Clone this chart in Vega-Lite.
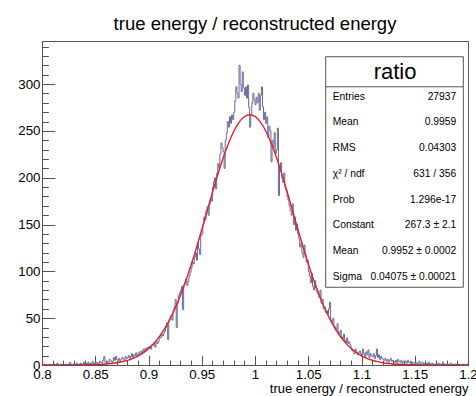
{
"$schema": "https://vega.github.io/schema/vega-lite/v6.json",
"width": 426, "height": 324,
"autosize": {"type": "none"},
"padding": {"left": 42, "top": 41, "right": 8, "bottom": 31},
"background": "white",
"config": {"font": "Liberation Sans", "view": {"stroke": "#555", "strokeWidth": 1}},
"title": {"text": "true energy / reconstructed energy", "fontSize": 18.5, "fontWeight": "normal", "font": "Liberation Sans", "color": "#000", "offset": 8, "frame": "group", "anchor": "middle"},
"datasets": {
"hist": [
{"x":0.800,"n":0},{"x":0.801,"n":0},{"x":0.802,"n":1},{"x":0.803,"n":0},{"x":0.804,"n":0},{"x":0.805,"n":0},{"x":0.806,"n":0},{"x":0.807,"n":1},{"x":0.808,"n":0},{"x":0.809,"n":0},
{"x":0.810,"n":0},{"x":0.811,"n":1},{"x":0.812,"n":0},{"x":0.813,"n":0},{"x":0.814,"n":2},{"x":0.815,"n":0},{"x":0.816,"n":0},{"x":0.817,"n":0},{"x":0.818,"n":1},{"x":0.819,"n":0},
{"x":0.820,"n":0},{"x":0.821,"n":0},{"x":0.822,"n":1},{"x":0.823,"n":0},{"x":0.824,"n":1},{"x":0.825,"n":0},{"x":0.826,"n":3},{"x":0.827,"n":0},{"x":0.828,"n":0},{"x":0.829,"n":1},
{"x":0.830,"n":1},{"x":0.831,"n":0},{"x":0.832,"n":2},{"x":0.833,"n":1},{"x":0.834,"n":0},{"x":0.835,"n":1},{"x":0.836,"n":2},{"x":0.837,"n":0},{"x":0.838,"n":1},{"x":0.839,"n":3},
{"x":0.840,"n":1},{"x":0.841,"n":2},{"x":0.842,"n":0},{"x":0.843,"n":3},{"x":0.844,"n":1},{"x":0.845,"n":2},{"x":0.846,"n":1},{"x":0.847,"n":4},{"x":0.848,"n":2},{"x":0.849,"n":1},
{"x":0.850,"n":2},{"x":0.851,"n":3},{"x":0.852,"n":1},{"x":0.853,"n":2},{"x":0.854,"n":4},{"x":0.855,"n":3},{"x":0.856,"n":2},{"x":0.857,"n":5},{"x":0.858,"n":9},{"x":0.859,"n":3},
{"x":0.860,"n":3},{"x":0.861,"n":4},{"x":0.862,"n":2},{"x":0.863,"n":6},{"x":0.864,"n":5},{"x":0.865,"n":3},{"x":0.866,"n":4},{"x":0.867,"n":8},{"x":0.868,"n":5},{"x":0.869,"n":9},
{"x":0.870,"n":6},{"x":0.871,"n":5},{"x":0.872,"n":7},{"x":0.873,"n":4},{"x":0.874,"n":6},{"x":0.875,"n":8},{"x":0.876,"n":7},{"x":0.877,"n":5},{"x":0.878,"n":9},{"x":0.879,"n":7},
{"x":0.880,"n":8},{"x":0.881,"n":10},{"x":0.882,"n":7},{"x":0.883,"n":9},{"x":0.884,"n":12},{"x":0.885,"n":8},{"x":0.886,"n":11},{"x":0.887,"n":10},{"x":0.888,"n":13},{"x":0.889,"n":9},
{"x":0.890,"n":12},{"x":0.891,"n":14},{"x":0.892,"n":11},{"x":0.893,"n":15},{"x":0.894,"n":13},{"x":0.895,"n":17},{"x":0.896,"n":14},{"x":0.897,"n":18},{"x":0.898,"n":16},{"x":0.899,"n":19},
{"x":0.900,"n":18},{"x":0.901,"n":20},{"x":0.902,"n":17},{"x":0.903,"n":22},{"x":0.904,"n":21},{"x":0.905,"n":24},{"x":0.906,"n":19},{"x":0.907,"n":26},{"x":0.908,"n":23},{"x":0.909,"n":25},
{"x":0.910,"n":30},{"x":0.911,"n":29},{"x":0.912,"n":33},{"x":0.913,"n":31},{"x":0.914,"n":34},{"x":0.915,"n":36},{"x":0.916,"n":40},{"x":0.917,"n":45},{"x":0.918,"n":27},{"x":0.919,"n":47},
{"x":0.920,"n":50},{"x":0.921,"n":53},{"x":0.922,"n":48},{"x":0.923,"n":58},{"x":0.924,"n":62},{"x":0.925,"n":70},{"x":0.926,"n":40},{"x":0.927,"n":66},{"x":0.928,"n":74},{"x":0.929,"n":77},
{"x":0.930,"n":80},{"x":0.931,"n":84},{"x":0.932,"n":59},{"x":0.933,"n":86},{"x":0.934,"n":88},{"x":0.935,"n":92},{"x":0.936,"n":85},{"x":0.937,"n":89},{"x":0.938,"n":95},{"x":0.939,"n":99},
{"x":0.940,"n":104},{"x":0.941,"n":110},{"x":0.942,"n":108},{"x":0.943,"n":115},{"x":0.944,"n":120},{"x":0.945,"n":112},{"x":0.946,"n":131},{"x":0.947,"n":124},{"x":0.948,"n":118},{"x":0.949,"n":138},
{"x":0.950,"n":140},{"x":0.951,"n":150},{"x":0.952,"n":158},{"x":0.953,"n":155},{"x":0.954,"n":165},{"x":0.955,"n":169},{"x":0.956,"n":160},{"x":0.957,"n":172},{"x":0.958,"n":178},{"x":0.959,"n":175},
{"x":0.960,"n":190},{"x":0.961,"n":196},{"x":0.962,"n":200},{"x":0.963,"n":188},{"x":0.964,"n":205},{"x":0.965,"n":215},{"x":0.966,"n":210},{"x":0.967,"n":225},{"x":0.968,"n":237},{"x":0.969,"n":232},
{"x":0.970,"n":228},{"x":0.971,"n":210},{"x":0.972,"n":240},{"x":0.973,"n":248},{"x":0.974,"n":260},{"x":0.975,"n":254},{"x":0.976,"n":265},{"x":0.977,"n":258},{"x":0.978,"n":267},{"x":0.979,"n":262},
{"x":0.980,"n":270},{"x":0.981,"n":282},{"x":0.982,"n":297},{"x":0.983,"n":290},{"x":0.984,"n":285},{"x":0.985,"n":320},{"x":0.986,"n":300},{"x":0.987,"n":292},{"x":0.988,"n":313},{"x":0.989,"n":296},
{"x":0.990,"n":288},{"x":0.991,"n":297},{"x":0.992,"n":285},{"x":0.993,"n":299},{"x":0.994,"n":275},{"x":0.995,"n":254},{"x":0.996,"n":268},{"x":0.997,"n":280},{"x":0.998,"n":290},{"x":0.999,"n":283},
{"x":1.000,"n":278},{"x":1.001,"n":286},{"x":1.002,"n":280},{"x":1.003,"n":290},{"x":1.004,"n":272},{"x":1.005,"n":288},{"x":1.006,"n":297},{"x":1.007,"n":276},{"x":1.008,"n":262},{"x":1.009,"n":270},
{"x":1.010,"n":258},{"x":1.011,"n":265},{"x":1.012,"n":243},{"x":1.013,"n":255},{"x":1.014,"n":250},{"x":1.015,"n":217},{"x":1.016,"n":240},{"x":1.017,"n":232},{"x":1.018,"n":248},{"x":1.019,"n":226},
{"x":1.020,"n":230},{"x":1.021,"n":253},{"x":1.022,"n":181},{"x":1.023,"n":210},{"x":1.024,"n":216},{"x":1.025,"n":200},{"x":1.026,"n":195},{"x":1.027,"n":205},{"x":1.028,"n":190},{"x":1.029,"n":186},
{"x":1.030,"n":180},{"x":1.031,"n":176},{"x":1.032,"n":170},{"x":1.033,"n":165},{"x":1.034,"n":160},{"x":1.035,"n":172},{"x":1.036,"n":150},{"x":1.037,"n":158},{"x":1.038,"n":144},{"x":1.039,"n":150},
{"x":1.040,"n":140},{"x":1.041,"n":135},{"x":1.042,"n":126},{"x":1.043,"n":130},{"x":1.044,"n":120},{"x":1.045,"n":115},{"x":1.046,"n":128},{"x":1.047,"n":118},{"x":1.048,"n":110},{"x":1.049,"n":112},
{"x":1.050,"n":100},{"x":1.051,"n":95},{"x":1.052,"n":88},{"x":1.053,"n":98},{"x":1.054,"n":84},{"x":1.055,"n":80},{"x":1.056,"n":90},{"x":1.057,"n":82},{"x":1.058,"n":78},{"x":1.059,"n":76},
{"x":1.060,"n":72},{"x":1.061,"n":80},{"x":1.062,"n":66},{"x":1.063,"n":70},{"x":1.064,"n":60},{"x":1.065,"n":62},{"x":1.066,"n":56},{"x":1.067,"n":58},{"x":1.068,"n":54},{"x":1.069,"n":60},
{"x":1.070,"n":67},{"x":1.071,"n":48},{"x":1.072,"n":45},{"x":1.073,"n":50},{"x":1.074,"n":42},{"x":1.075,"n":40},{"x":1.076,"n":38},{"x":1.077,"n":44},{"x":1.078,"n":35},{"x":1.079,"n":33},
{"x":1.080,"n":37},{"x":1.081,"n":30},{"x":1.082,"n":28},{"x":1.083,"n":33},{"x":1.084,"n":26},{"x":1.085,"n":24},{"x":1.086,"n":29},{"x":1.087,"n":23},{"x":1.088,"n":25},{"x":1.089,"n":22},
{"x":1.090,"n":18},{"x":1.091,"n":15},{"x":1.092,"n":16},{"x":1.093,"n":12},{"x":1.094,"n":17},{"x":1.095,"n":14},{"x":1.096,"n":11},{"x":1.097,"n":13},{"x":1.098,"n":15},{"x":1.099,"n":12},
{"x":1.100,"n":10},{"x":1.101,"n":17},{"x":1.102,"n":12},{"x":1.103,"n":9},{"x":1.104,"n":14},{"x":1.105,"n":11},{"x":1.106,"n":16},{"x":1.107,"n":8},{"x":1.108,"n":12},{"x":1.109,"n":10},
{"x":1.110,"n":9},{"x":1.111,"n":12},{"x":1.112,"n":7},{"x":1.113,"n":10},{"x":1.114,"n":17},{"x":1.115,"n":8},{"x":1.116,"n":11},{"x":1.117,"n":6},{"x":1.118,"n":9},{"x":1.119,"n":7},
{"x":1.120,"n":6},{"x":1.121,"n":5},{"x":1.122,"n":7},{"x":1.123,"n":4},{"x":1.124,"n":6},{"x":1.125,"n":3},{"x":1.126,"n":5},{"x":1.127,"n":7},{"x":1.128,"n":4},{"x":1.129,"n":5},
{"x":1.130,"n":4},{"x":1.131,"n":3},{"x":1.132,"n":5},{"x":1.133,"n":2},{"x":1.134,"n":6},{"x":1.135,"n":4},{"x":1.136,"n":3},{"x":1.137,"n":5},{"x":1.138,"n":2},{"x":1.139,"n":4},
{"x":1.140,"n":3},{"x":1.141,"n":4},{"x":1.142,"n":2},{"x":1.143,"n":5},{"x":1.144,"n":3},{"x":1.145,"n":2},{"x":1.146,"n":4},{"x":1.147,"n":1},{"x":1.148,"n":3},{"x":1.149,"n":2},
{"x":1.150,"n":2},{"x":1.151,"n":3},{"x":1.152,"n":1},{"x":1.153,"n":2},{"x":1.154,"n":4},{"x":1.155,"n":1},{"x":1.156,"n":2},{"x":1.157,"n":3},{"x":1.158,"n":1},{"x":1.159,"n":2},
{"x":1.160,"n":1},{"x":1.161,"n":2},{"x":1.162,"n":0},{"x":1.163,"n":3},{"x":1.164,"n":1},{"x":1.165,"n":0},{"x":1.166,"n":2},{"x":1.167,"n":1},{"x":1.168,"n":0},{"x":1.169,"n":1},
{"x":1.170,"n":0},{"x":1.171,"n":1},{"x":1.172,"n":2},{"x":1.173,"n":0},{"x":1.174,"n":1},{"x":1.175,"n":0},{"x":1.176,"n":3},{"x":1.177,"n":0},{"x":1.178,"n":1},{"x":1.179,"n":0},
{"x":1.180,"n":1},{"x":1.181,"n":0},{"x":1.182,"n":0},{"x":1.183,"n":2},{"x":1.184,"n":0},{"x":1.185,"n":1},{"x":1.186,"n":0},{"x":1.187,"n":0},{"x":1.188,"n":1},{"x":1.189,"n":0},
{"x":1.190,"n":0},{"x":1.191,"n":1},{"x":1.192,"n":0},{"x":1.193,"n":0},{"x":1.194,"n":0},{"x":1.195,"n":1},{"x":1.196,"n":0},{"x":1.197,"n":0},{"x":1.198,"n":0},{"x":1.199,"n":1},
{"x":1.200,"n":1}
],
"fit": [
{"x":0.800,"f":0.003},{"x":0.810,"f":0.009},{"x":0.820,"f":0.026},{"x":0.830,"f":0.072},{"x":0.840,"f":0.19},{"x":0.845,"f":0.30},{"x":0.850,"f":0.47},{"x":0.855,"f":0.72},{"x":0.860,"f":1.09},{"x":0.865,"f":1.62},
{"x":0.870,"f":2.38},{"x":0.875,"f":3.45},{"x":0.880,"f":4.92},{"x":0.885,"f":6.9},{"x":0.890,"f":9.56},{"x":0.895,"f":13.0},{"x":0.900,"f":17.5},{"x":0.905,"f":23.1},{"x":0.910,"f":30.1},{"x":0.915,"f":38.6},
{"x":0.920,"f":48.7},{"x":0.925,"f":60.7},{"x":0.930,"f":74.3},{"x":0.935,"f":89.8},{"x":0.940,"f":106.8},{"x":0.945,"f":125.1},{"x":0.950,"f":144.5},{"x":0.955,"f":164.4},{"x":0.960,"f":184.1},{"x":0.965,"f":203.1},
{"x":0.970,"f":220.8},{"x":0.975,"f":236.3},{"x":0.980,"f":249.3},{"x":0.985,"f":259.1},{"x":0.990,"f":265.1},{"x":0.995,"f":267.3},{"x":1.000,"f":265.5},{"x":1.005,"f":259.7},{"x":1.010,"f":250.2},{"x":1.015,"f":237.5},
{"x":1.020,"f":222.1},{"x":1.025,"f":204.6},{"x":1.030,"f":185.6},{"x":1.035,"f":165.9},{"x":1.040,"f":146.1},{"x":1.045,"f":126.7},{"x":1.050,"f":108.2},{"x":1.055,"f":91.0},{"x":1.060,"f":75.5},{"x":1.065,"f":61.6},
{"x":1.070,"f":49.6},{"x":1.075,"f":39.3},{"x":1.080,"f":30.7},{"x":1.085,"f":23.6},{"x":1.090,"f":17.9},{"x":1.095,"f":13.3},{"x":1.100,"f":9.8},{"x":1.105,"f":7.09},{"x":1.110,"f":5.06},{"x":1.115,"f":3.55},
{"x":1.120,"f":2.46},{"x":1.125,"f":1.67},{"x":1.130,"f":1.13},{"x":1.135,"f":0.74},{"x":1.140,"f":0.49},{"x":1.145,"f":0.31},{"x":1.150,"f":0.20},{"x":1.160,"f":0.075},{"x":1.170,"f":0.027},{"x":1.180,"f":0.009},
{"x":1.190,"f":0.003},{"x":1.200,"f":0.001}
],
"stats": [
{"row":1,"name":"Entries","value":"27937"},
{"row":2,"name":"Mean","value":"0.9959"},
{"row":3,"name":"RMS","value":"0.04303"},
{"row":4,"name":"χ² / ndf","value":"631 / 356"},
{"row":5,"name":"Prob","value":"1.296e-17"},
{"row":6,"name":"Constant","value":"267.3 ± 2.1"},
{"row":7,"name":"Mean","value":"0.9952 ± 0.0002"},
{"row":8,"name":"Sigma","value":"0.04075 ± 0.00021"}
],
"one": [{"label":"ratio"}]
},
"layer": [
{
"data": {"name": "hist"},
"mark": {"type": "line", "interpolate": "step-after", "color": "#6a6a9c", "strokeWidth": 1, "clip": true},
"encoding": {
"x": {"field": "x", "type": "quantitative", "scale": {"domain": [0.8, 1.2], "nice": false, "zero": false},
"axis": {"orient": "bottom", "values": [0.8, 0.85, 0.9, 0.95, 1, 1.05, 1.1, 1.15, 1.2], "format": "~g", "labelFlush": false, "labelOverlap": false, "labelBound": false, "tickSize": -9.7, "labelPadding": 12.6, "labelFontSize": 13.3, "labelFont": "Liberation Sans", "labelColor": "#000", "domainColor": "#555", "tickColor": "#555", "grid": false,
"title": "true energy / reconstructed energy", "titleFont": "Liberation Sans", "titleFontSize": 13, "titleFontWeight": "normal", "titleColor": "#000", "titleAnchor": "end", "titleAlign": "right", "titleX": 426, "titleY": 27.5, "titleBaseline": "alphabetic"}},
"y": {"field": "n", "type": "quantitative", "scale": {"domain": [0, 346], "nice": false},
"axis": {"orient": "left", "values": [0, 50, 100, 150, 200, 250, 300], "format": "d", "tickSize": -12.8, "labelPadding": 14.8, "labelFontSize": 13.3, "labelFont": "Liberation Sans", "labelColor": "#000", "domainColor": "#555", "tickColor": "#555", "grid": false, "title": null}}
}
},
{
"data": {"name": "fit"},
"mark": {"type": "line", "interpolate": "monotone", "color": "#e0202a", "strokeWidth": 1.4, "clip": true},
"encoding": {
"x": {"field": "x", "type": "quantitative", "scale": {"domain": [0.8, 1.2], "nice": false, "zero": false},
"axis": {"orient": "bottom", "values": [0.81,0.82,0.83,0.84,0.86,0.87,0.88,0.89,0.91,0.92,0.93,0.94,0.96,0.97,0.98,0.99,1.01,1.02,1.03,1.04,1.06,1.07,1.08,1.09,1.11,1.12,1.13,1.14,1.16,1.17,1.18,1.19], "labels": false, "domain": false, "tickSize": -4.9, "tickColor": "#555", "grid": false, "title": null}},
"y": {"field": "f", "type": "quantitative", "scale": {"domain": [0, 346], "nice": false},
"axis": {"orient": "left", "values": [10,20,30,40,60,70,80,90,110,120,130,140,160,170,180,190,210,220,230,240,260,270,280,290,310,320,330,340], "labels": false, "domain": false, "tickSize": -6.4, "tickColor": "#555", "grid": false, "title": null}}
}
},
{
"data": {"name": "one"},
"mark": {"type": "rect", "fill": "white", "stroke": "#555", "strokeWidth": 1},
"encoding": {
"x": {"datum": 1.0664, "type": "quantitative", "scale": {"domain": [0.8, 1.2], "nice": false, "zero": false}, "axis": null},
"x2": {"datum": 1.1956},
"y": {"datum": 329.2, "type": "quantitative", "scale": {"domain": [0, 346], "nice": false}, "axis": null},
"y2": {"datum": 83.0}
}
},
{
"data": {"name": "one"},
"mark": {"type": "rule", "stroke": "#555", "strokeWidth": 1},
"encoding": {
"x": {"datum": 1.0664, "type": "quantitative", "scale": {"domain": [0.8, 1.2], "nice": false, "zero": false}, "axis": null},
"x2": {"datum": 1.1956},
"y": {"datum": 297.1, "type": "quantitative", "scale": {"domain": [0, 346], "nice": false}, "axis": null}
}
},
{
"data": {"name": "one"},
"mark": {"type": "text", "fontSize": 22, "font": "Liberation Sans", "align": "center", "baseline": "middle", "color": "#000"},
"encoding": {
"x": {"datum": 1.1315, "type": "quantitative", "scale": {"domain": [0.8, 1.2], "nice": false, "zero": false}, "axis": null},
"y": {"datum": 313.2, "type": "quantitative", "scale": {"domain": [0, 346], "nice": false}, "axis": null},
"text": {"field": "label"}
}
},
{
"data": {"name": "stats"},
"mark": {"type": "text", "fontSize": 10.3, "font": "Liberation Sans", "align": "left", "baseline": "middle", "color": "#000"},
"encoding": {
"x": {"datum": 1.073, "type": "quantitative", "scale": {"domain": [0.8, 1.2], "nice": false, "zero": false}, "axis": null},
"y": {"field": "row", "type": "ordinal", "scale": {"type": "point", "domain": [1,2,3,4,5,6,7,8], "range": [55.7, 235.6], "padding": 0}, "axis": null},
"text": {"field": "name"}
}
},
{
"data": {"name": "stats"},
"mark": {"type": "text", "fontSize": 10.3, "font": "Liberation Sans", "align": "right", "baseline": "middle", "color": "#000"},
"encoding": {
"x": {"datum": 1.189, "type": "quantitative", "scale": {"domain": [0.8, 1.2], "nice": false, "zero": false}, "axis": null},
"y": {"field": "row", "type": "ordinal", "scale": {"type": "point", "domain": [1,2,3,4,5,6,7,8], "range": [55.7, 235.6], "padding": 0}, "axis": null},
"text": {"field": "value"}
}
}
],
"resolve": {"scale": {"y": "independent"}, "axis": {"x": "independent", "y": "independent"}}
}
